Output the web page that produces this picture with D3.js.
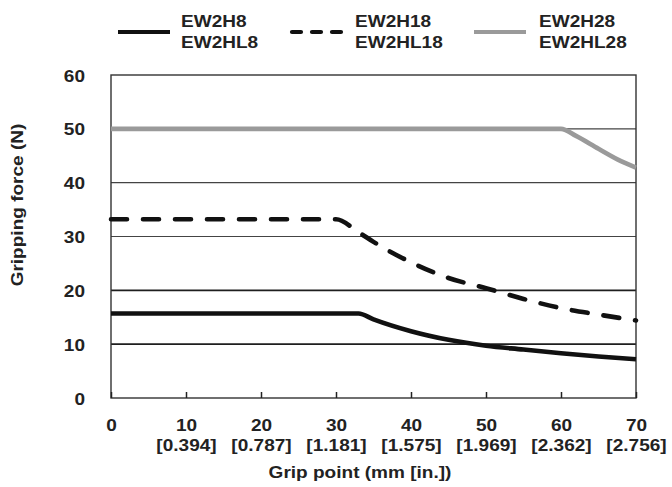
<!DOCTYPE html>
<html>
<head>
<meta charset="utf-8">
<script src="https://cdn.jsdelivr.net/npm/d3@7"></script>
<style>
  body { margin: 0; background: #fff; }
  text { font-family: "Liberation Sans", Arial, sans-serif; font-weight: bold; fill: #222; }
</style>
</head>
<body>
<div id="chart"></div>
<script>
// grip point (mm) vs gripping force (N)
var ew2h8X  = [0, 33, 35, 40, 45, 50, 55, 60, 65, 70];
var ew2h8Y  = [15.7, 15.7, 14.6, 12.4, 10.8, 9.7, 9.0, 8.3, 7.7, 7.2];
var ew2h18X = [0, 30, 33, 35, 40, 45, 50, 55, 60, 65, 70];
var ew2h18Y = [33.2, 33.2, 30.8, 29.0, 25.2, 22.3, 20.4, 18.4, 16.7, 15.5, 14.4];
var ew2h28X = [0, 60, 62, 65, 68, 70];
var ew2h28Y = [50, 50, 48.7, 46.3, 44.0, 42.8];

var seriesNames = [["EW2H8", "EW2HL8"], ["EW2H18", "EW2HL18"], ["EW2H28", "EW2HL28"]];
var xTicks = [0, 10, 20, 30, 40, 50, 60, 70];
var xInchLabels = ["", "[0.394]", "[0.787]", "[1.181]", "[1.575]", "[1.969]", "[2.362]", "[2.756]"];
var yTicks = [0, 10, 20, 30, 40, 50, 60];

var W = 672, H = 487;
var margin = {left: 111, right: 36, top: 75, bottom: 89};
var width = W - margin.left - margin.right, height = H - margin.top - margin.bottom;
var sx = 1.12; // text in the original is set a bit wide

var svg = d3.select("#chart").append("svg")
    .attr("width", W).attr("height", H);
var g = svg.append("g")
    .attr("transform", "translate(" + margin.left + "," + margin.top + ")");

var x = d3.scaleLinear().domain([0, 70]).range([0, width]);
var y = d3.scaleLinear().domain([0, 60]).range([height, 0]);

// grid lines
g.append("g").selectAll("line")
    .data([10, 20, 30, 40, 50])
    .enter().append("line")
    .attr("x1", 0).attr("x2", width)
    .attr("y1", function(d) { return y(d); })
    .attr("y2", function(d) { return y(d); })
    .attr("stroke", function(d) { return d <= 20 ? "#1e1e1e" : "#444"; })
    .attr("stroke-width", function(d) { return d <= 20 ? 1.8 : 1.2; });

// frame
g.append("rect")
    .attr("width", width).attr("height", height)
    .attr("fill", "none").attr("stroke", "#333").attr("stroke-width", 1.4);

// bottom axis: inner ticks + two-row labels
var xAxis = g.append("g")
    .attr("transform", "translate(0," + height + ")")
    .call(d3.axisBottom(x).tickValues(xTicks).tickSize(-6).tickFormat(""));
xAxis.select(".domain").remove();
xAxis.selectAll(".tick line").attr("stroke", "#222").attr("stroke-width", 1.5);
xAxis.selectAll(".tick").each(function(d, i) {
    var t = d3.select(this);
    t.append("text").attr("text-anchor", "middle")
        .attr("transform", "translate(0,33) scale(" + sx + ",1)")
        .style("font-size", "17px").text(d);
    t.append("text").attr("text-anchor", "middle")
        .attr("transform", "translate(0,53) scale(" + sx + ",1)")
        .style("font-size", "17px").text(xInchLabels[i]);
});

// left axis labels
var yAxis = g.append("g")
    .call(d3.axisLeft(y).tickValues(yTicks).tickSize(0).tickPadding(0));
yAxis.select(".domain").remove();
yAxis.selectAll(".tick text")
    .attr("x", null).attr("dy", null)
    .attr("text-anchor", "end")
    .attr("transform", "translate(-26,6) scale(" + sx + ",1)")
    .style("font-size", "17px").style("font-family", null);

// axis titles
svg.append("text").attr("text-anchor", "middle")
    .attr("transform", "translate(23,205) rotate(-90) scale(" + sx + ",1)")
    .style("font-size", "17px").text("Gripping force (N)");
svg.append("text").attr("text-anchor", "middle")
    .attr("transform", "translate(360,478) scale(" + sx + ",1)")
    .style("font-size", "17px").text("Grip point (mm [in.])");

// data lines
var line = d3.line()
    .x(function(d) { return x(d[0]); })
    .y(function(d) { return y(d[1]); })
    .curve(d3.curveMonotoneX);

var styles = [
    {stroke: "#111", dash: null},
    {stroke: "#111", dash: "16,16"},
    {stroke: "#9a9a9a", dash: null}
];
var series = [d3.zip(ew2h8X, ew2h8Y), d3.zip(ew2h18X, ew2h18Y), d3.zip(ew2h28X, ew2h28Y)];

g.append("g").selectAll("path")
    .data(series)
    .enter().append("path")
    .attr("d", line)
    .attr("fill", "none")
    .attr("stroke", function(d, i) { return styles[i].stroke; })
    .attr("stroke-width", 4.6)
    .attr("stroke-linecap", function(d, i) { return styles[i].dash ? "round" : "butt"; })
    .attr("stroke-dasharray", function(d, i) { return styles[i].dash; });

// legend
var legendX = [118, 292, 474];
var legend = svg.append("g").selectAll("g")
    .data(seriesNames)
    .enter().append("g")
    .attr("transform", function(d, i) { return "translate(" + legendX[i] + ",0)"; });
legend.append("line")
    .attr("x1", 0).attr("x2", 52).attr("y1", 32).attr("y2", 32)
    .attr("stroke", function(d, i) { return styles[i].stroke; })
    .attr("stroke-width", 4.2)
    .attr("stroke-linecap", function(d, i) { return styles[i].dash ? "round" : "butt"; })
    .attr("stroke-dasharray", function(d, i) { return styles[i].dash ? "9,11" : null; });
legend.each(function(d) {
    var lg = d3.select(this);
    d.forEach(function(s, j) {
        lg.append("text")
            .attr("transform", "translate(" + (d[0] === "EW2H28" ? 65 : 63) + "," + (27 + j * 21) + ") scale(" + sx + ",1)")
            .style("font-size", "17px").text(s);
    });
});
</script>
</body>
</html>
